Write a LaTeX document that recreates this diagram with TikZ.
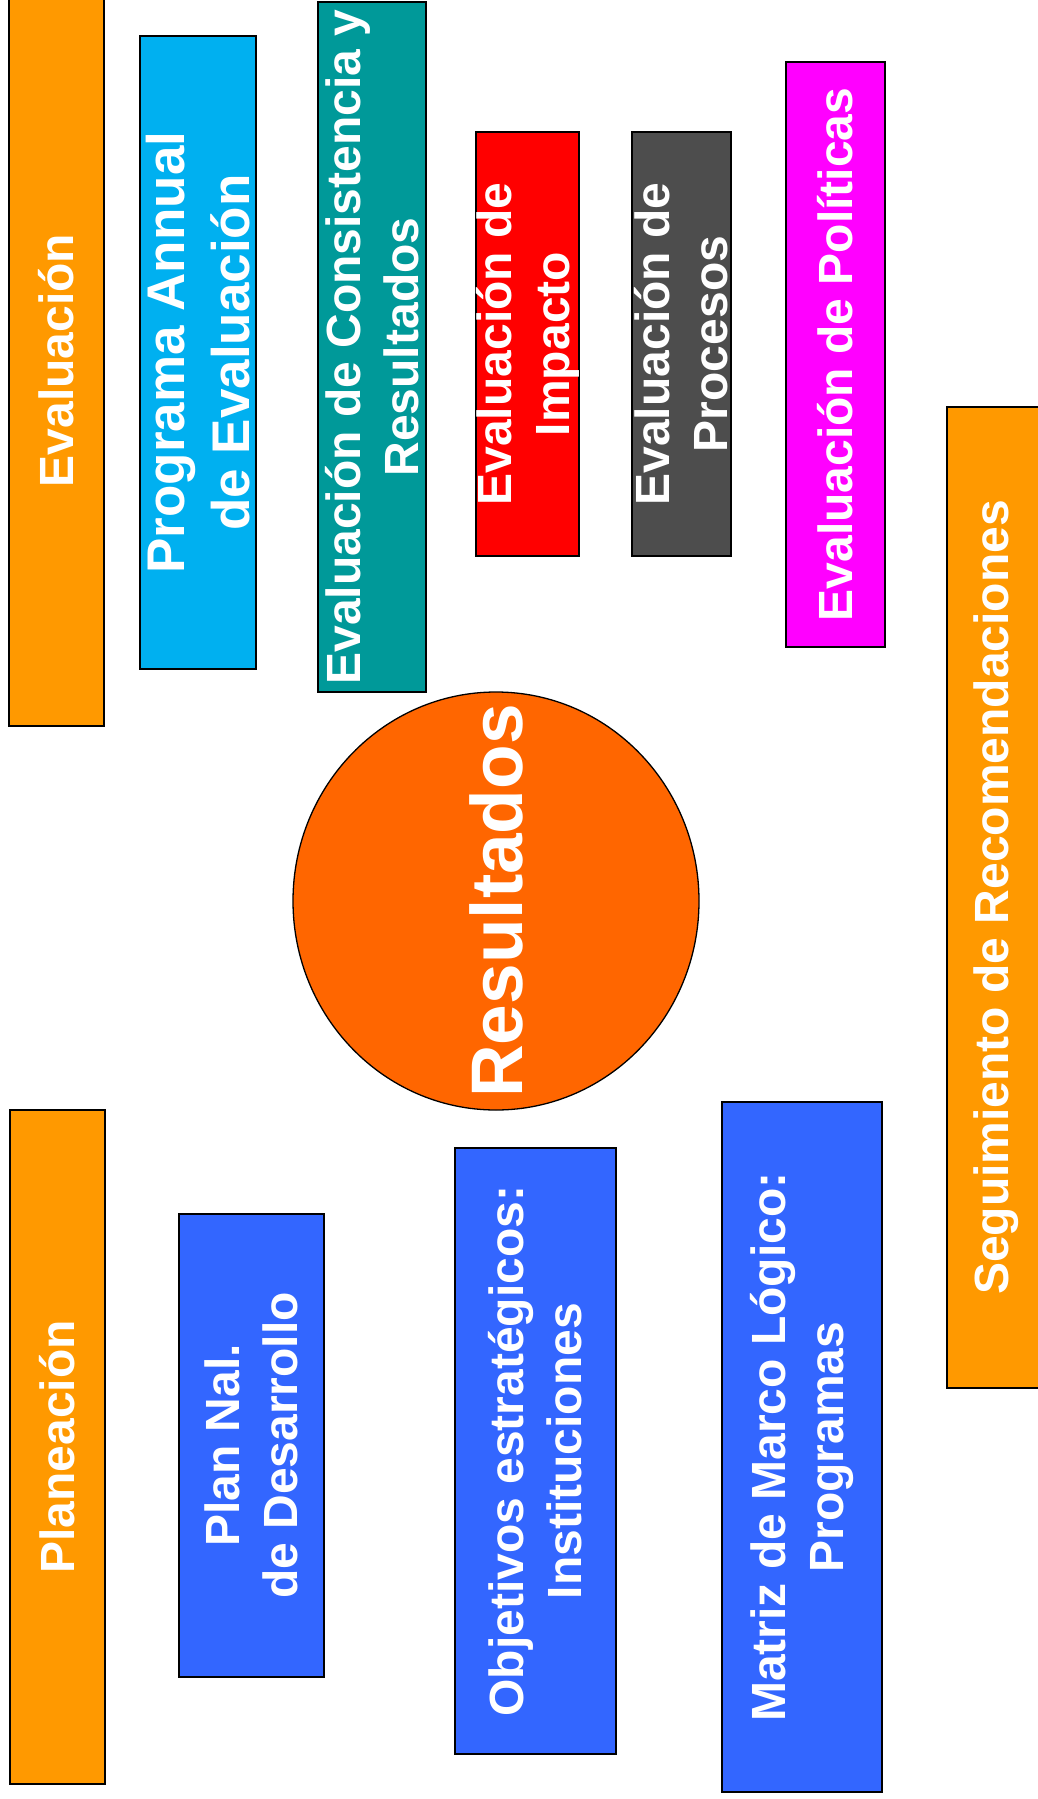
\documentclass[tikz,border=0pt]{standalone}
\usepackage{fontspec}
\setmainfont{Liberation Sans}
\usetikzlibrary{shapes.geometric}
\definecolor{corange}{HTML}{FF9900}
\definecolor{ccyan}{HTML}{00B0F0}
\definecolor{cteal}{HTML}{009999}
\definecolor{cred}{HTML}{FF0000}
\definecolor{cgray}{HTML}{4D4D4D}
\definecolor{cmag}{HTML}{FF00FF}
\definecolor{cres}{HTML}{FF6600}
\definecolor{cblue}{HTML}{3366FF}
\begin{document}
\begin{tikzpicture}[x=1pt,y=-1pt,
  bx/.style={draw=black, line width=1.3pt, rotate=90, inner sep=0pt, outer sep=0pt,
    text=white, font=\bfseries\fontsize{48}{58}\selectfont, align=center},
  bigtxt/.style={font=\bfseries\fontsize{53}{65}\selectfont}]
\useasboundingbox (0,0) rectangle (1038,1799);
\clip (0,0) rectangle (1038,1799);
\fill[white] (0,0) rectangle (1038,1799);

\node[bx, fill=corange, minimum width=731, minimum height=95] (eval) at (56.5,360.5) {Evaluación};
\node[bx, bigtxt, fill=ccyan, minimum width=633, minimum height=116] (prog) at (198,352.5) {Programa Annual\\de Evaluación};
\node[bx, fill=cteal, minimum width=690, minimum height=108] (cons) at (372,347) {Evaluación de Consistencia y\\Resultados};
\node[bx, fill=cred, minimum width=424, minimum height=99] (imp) at (527.5,344) {Evaluación de\\Impacto};
\node[bx, fill=cgray, minimum width=424, minimum height=99] (proc) at (681.5,344) {Evaluación de\\Procesos};
\node[bx, fill=cmag, minimum width=585, minimum height=99] (pol) at (835.5,354.5) {Evaluación de Políticas};
\node[bx, fill=corange, minimum width=981, minimum height=98] (seg) at (996,897.5) {Seguimiento de Recomendaciones};

\node[draw=black, line width=1.3pt, ellipse, fill=cres, inner sep=0pt, outer sep=0pt,
  minimum width=406, minimum height=418] (res) at (496,901) {};
\node[rotate=90, inner sep=0pt, text=white, font=\bfseries\fontsize{73}{80}\selectfont] (restxt) at (res.center) {Resultados};

\node[bx, fill=corange, minimum width=674, minimum height=95] (plan) at (57.5,1447) {Planeación};
\node[bx, fill=cblue, minimum width=463, minimum height=145] (pnd) at (251.5,1445.5) {Plan Nal.\\de Desarrollo};
\node[bx, fill=cblue, minimum width=606, minimum height=161] (obj) at (535.5,1451) {Objetivos estratégicos:\\Instituciones};
\node[bx, fill=cblue, minimum width=690, minimum height=160] (mat) at (802,1447) {Matriz de Marco Lógico:\\Programas};
\end{tikzpicture}
\end{document}
